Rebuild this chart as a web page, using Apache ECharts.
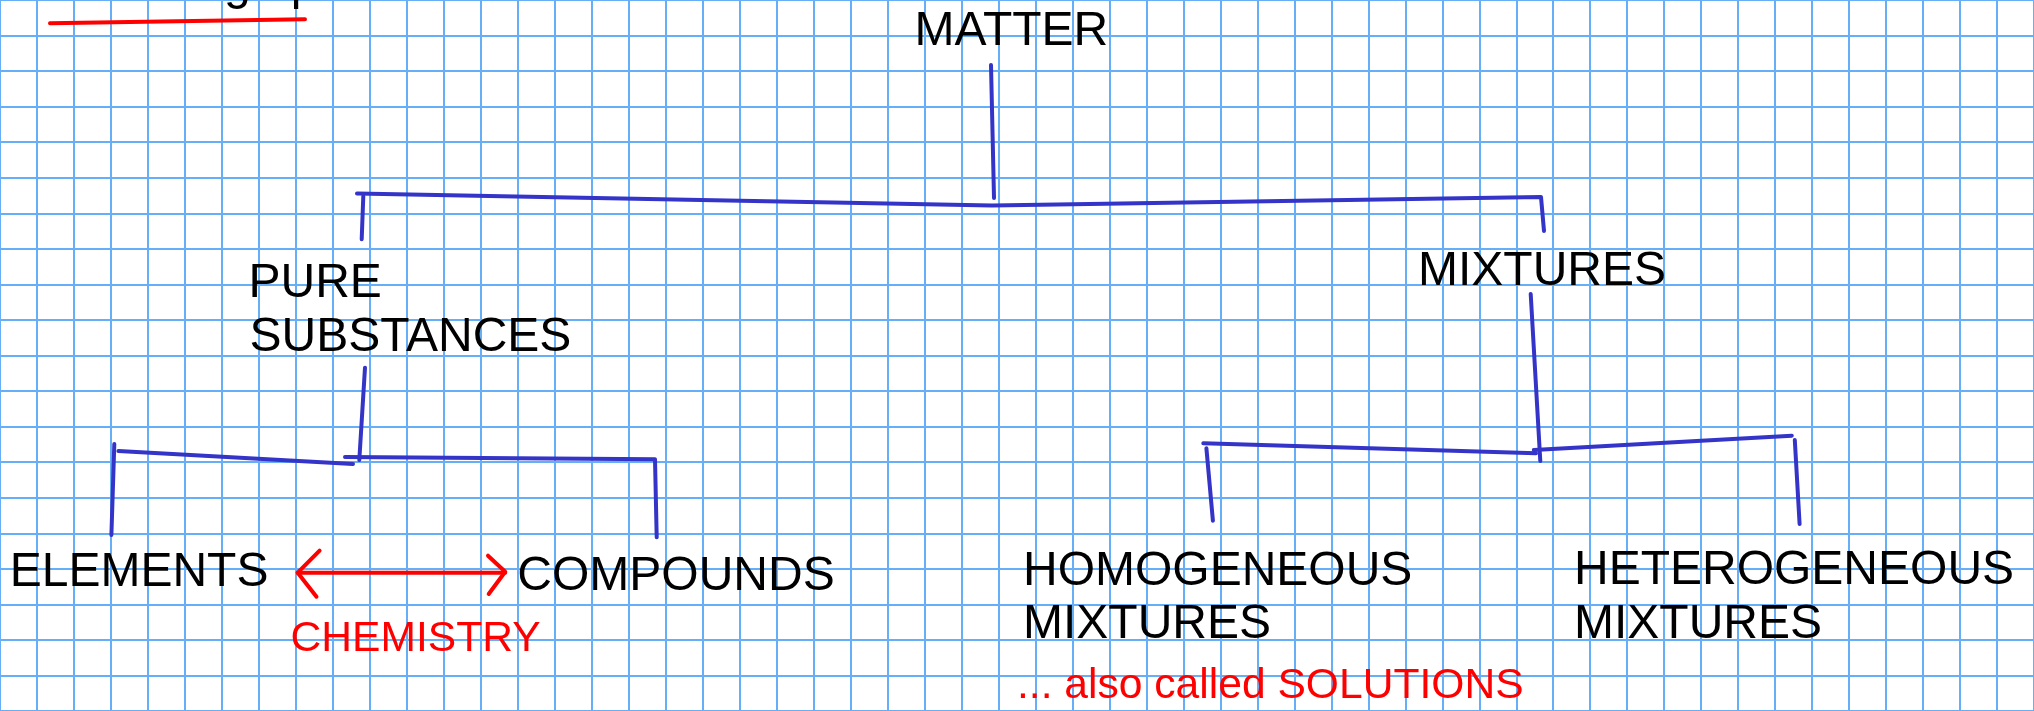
<!DOCTYPE html>
<html>
<head>
<meta charset="utf-8">
<script src="https://cdn.jsdelivr.net/npm/echarts@6/dist/echarts.min.js"></script>
<style>
html,body{margin:0;padding:0;background:#fff;}
#chart{width:2034px;height:711px;}
</style>
</head>
<body>
<div id="chart"></div>
<script>
// ---- data (reference pixel space) ----
const blackTexts = ['Summing up', 'MATTER', 'PURE', 'SUBSTANCES', 'MIXTURES', 'ELEMENTS', 'COMPOUNDS',
  'HOMOGENEOUS', 'MIXTURES', 'HETEROGENEOUS', 'MIXTURES'];
const blackTextX = [48, 914.5, 248.5, 249.5, 1418, 9.7, 517.3, 1023, 1023, 1574, 1574];
const blackTextBaseline = [0.5, 47, 299, 353.3, 286.7, 587.7, 591.7, 586.7, 640, 585.5, 640];

const redTexts = ['CHEMISTRY', '... also called SOLUTIONS'];
const redTextX = [290.5, 1017];
const redTextBaseline = [652.3, 700];

const blueStrokes = [
  [[991, 65], [994, 198]],
  [[357, 193.5], [992, 205.5], [1541, 197], [1544, 231]],
  [[363.3, 196], [361.7, 239.3]],
  [[365, 367.7], [359.3, 460]],
  [[345, 457], [655, 459.3], [656.7, 537.3]],
  [[118.4, 451], [353, 464]],
  [[114.3, 444], [111.4, 535]],
  [[1530.7, 294], [1540.3, 461]],
  [[1203.3, 443.3], [1536, 453.3]],
  [[1206.4, 448.3], [1212.9, 520.7]],
  [[1533.8, 450], [1791.8, 435.7]],
  [[1794.8, 440], [1799.6, 524]]
];
const redStrokes = [
  [[50, 23.3], [305, 19.3]],
  [[297.7, 572.7], [505.2, 572.7]],
  [[319.6, 550.7], [297.7, 572.7], [316.5, 596.7]],
  [[488, 555.7], [505.2, 571.7], [488.7, 594]]
];

// graph paper: cell counts
const paperXRange = [-1, 54];
const paperYRange = [-1, 19];

const FONT = 'Liberation Sans, Arial, sans-serif';
const BIG = 48, SMALL = 42.6;
const MID = 0.315; // 'middle' offset above alphabetic baseline (em)

function textData(texts, xs, bases, fs) {
  return texts.map((t, i) => ({ name: t, value: [xs[i], bases[i] - MID * fs] }));
}

const chart = echarts.init(document.getElementById('chart'), null, { renderer: 'canvas' });
const hidden = { show: false };
const labelBase = { show: true, position: 'right', distance: 0, formatter: '{b}', opacity: 1,
  fontFamily: FONT, align: 'left', verticalAlign: 'middle', textBorderWidth: 0 };
chart.setOption({
  backgroundColor: '#ffffff',
  animation: false,
  grid: [
    { left: -31.5, right: -13.5, top: -26.1, bottom: -18.9, containLabel: false },
    { left: 0, right: 0, top: 0, bottom: 0, containLabel: false }
  ],
  xAxis: [
    { gridIndex: 0, type: 'value', min: paperXRange[0], max: paperXRange[1], interval: 1,
      axisLine: hidden, axisTick: hidden, axisLabel: hidden,
      splitLine: { show: true, lineStyle: { color: '#66aef6', width: 2 } } },
    { gridIndex: 1, type: 'value', min: 0, max: 2034, show: false }
  ],
  yAxis: [
    { gridIndex: 0, type: 'value', min: paperYRange[0], max: paperYRange[1], interval: 1, inverse: true,
      axisLine: hidden, axisTick: hidden, axisLabel: hidden,
      splitLine: { show: true, lineStyle: { color: '#66aef6', width: 2 } } },
    { gridIndex: 1, type: 'value', min: 0, max: 711, inverse: true, show: false }
  ],
  series: [
    { type: 'lines', coordinateSystem: 'cartesian2d', xAxisIndex: 1, yAxisIndex: 1, polyline: true,
      silent: true, clip: false,
      lineStyle: { color: '#3434c8', width: 4, opacity: 1, cap: 'round', join: 'round' },
      data: blueStrokes.map(c => ({ coords: c })) },
    { type: 'lines', coordinateSystem: 'cartesian2d', xAxisIndex: 1, yAxisIndex: 1, polyline: true,
      silent: true, clip: false,
      lineStyle: { color: '#ff0000', width: 4, opacity: 1, cap: 'round', join: 'round' },
      data: redStrokes.map(c => ({ coords: c })) },
    { type: 'scatter', xAxisIndex: 1, yAxisIndex: 1, symbolSize: 0, silent: true, clip: false,
      itemStyle: { opacity: 1 },
      data: textData(blackTexts, blackTextX, blackTextBaseline, BIG),
      label: Object.assign({}, labelBase, { color: '#000000', fontSize: BIG }) },
    { type: 'scatter', xAxisIndex: 1, yAxisIndex: 1, symbolSize: 0, silent: true, clip: false,
      itemStyle: { opacity: 1 },
      data: textData(redTexts, redTextX, redTextBaseline, SMALL),
      label: Object.assign({}, labelBase, { color: '#ff0000', fontSize: SMALL }) }
  ]
});
</script>
</body>
</html>
